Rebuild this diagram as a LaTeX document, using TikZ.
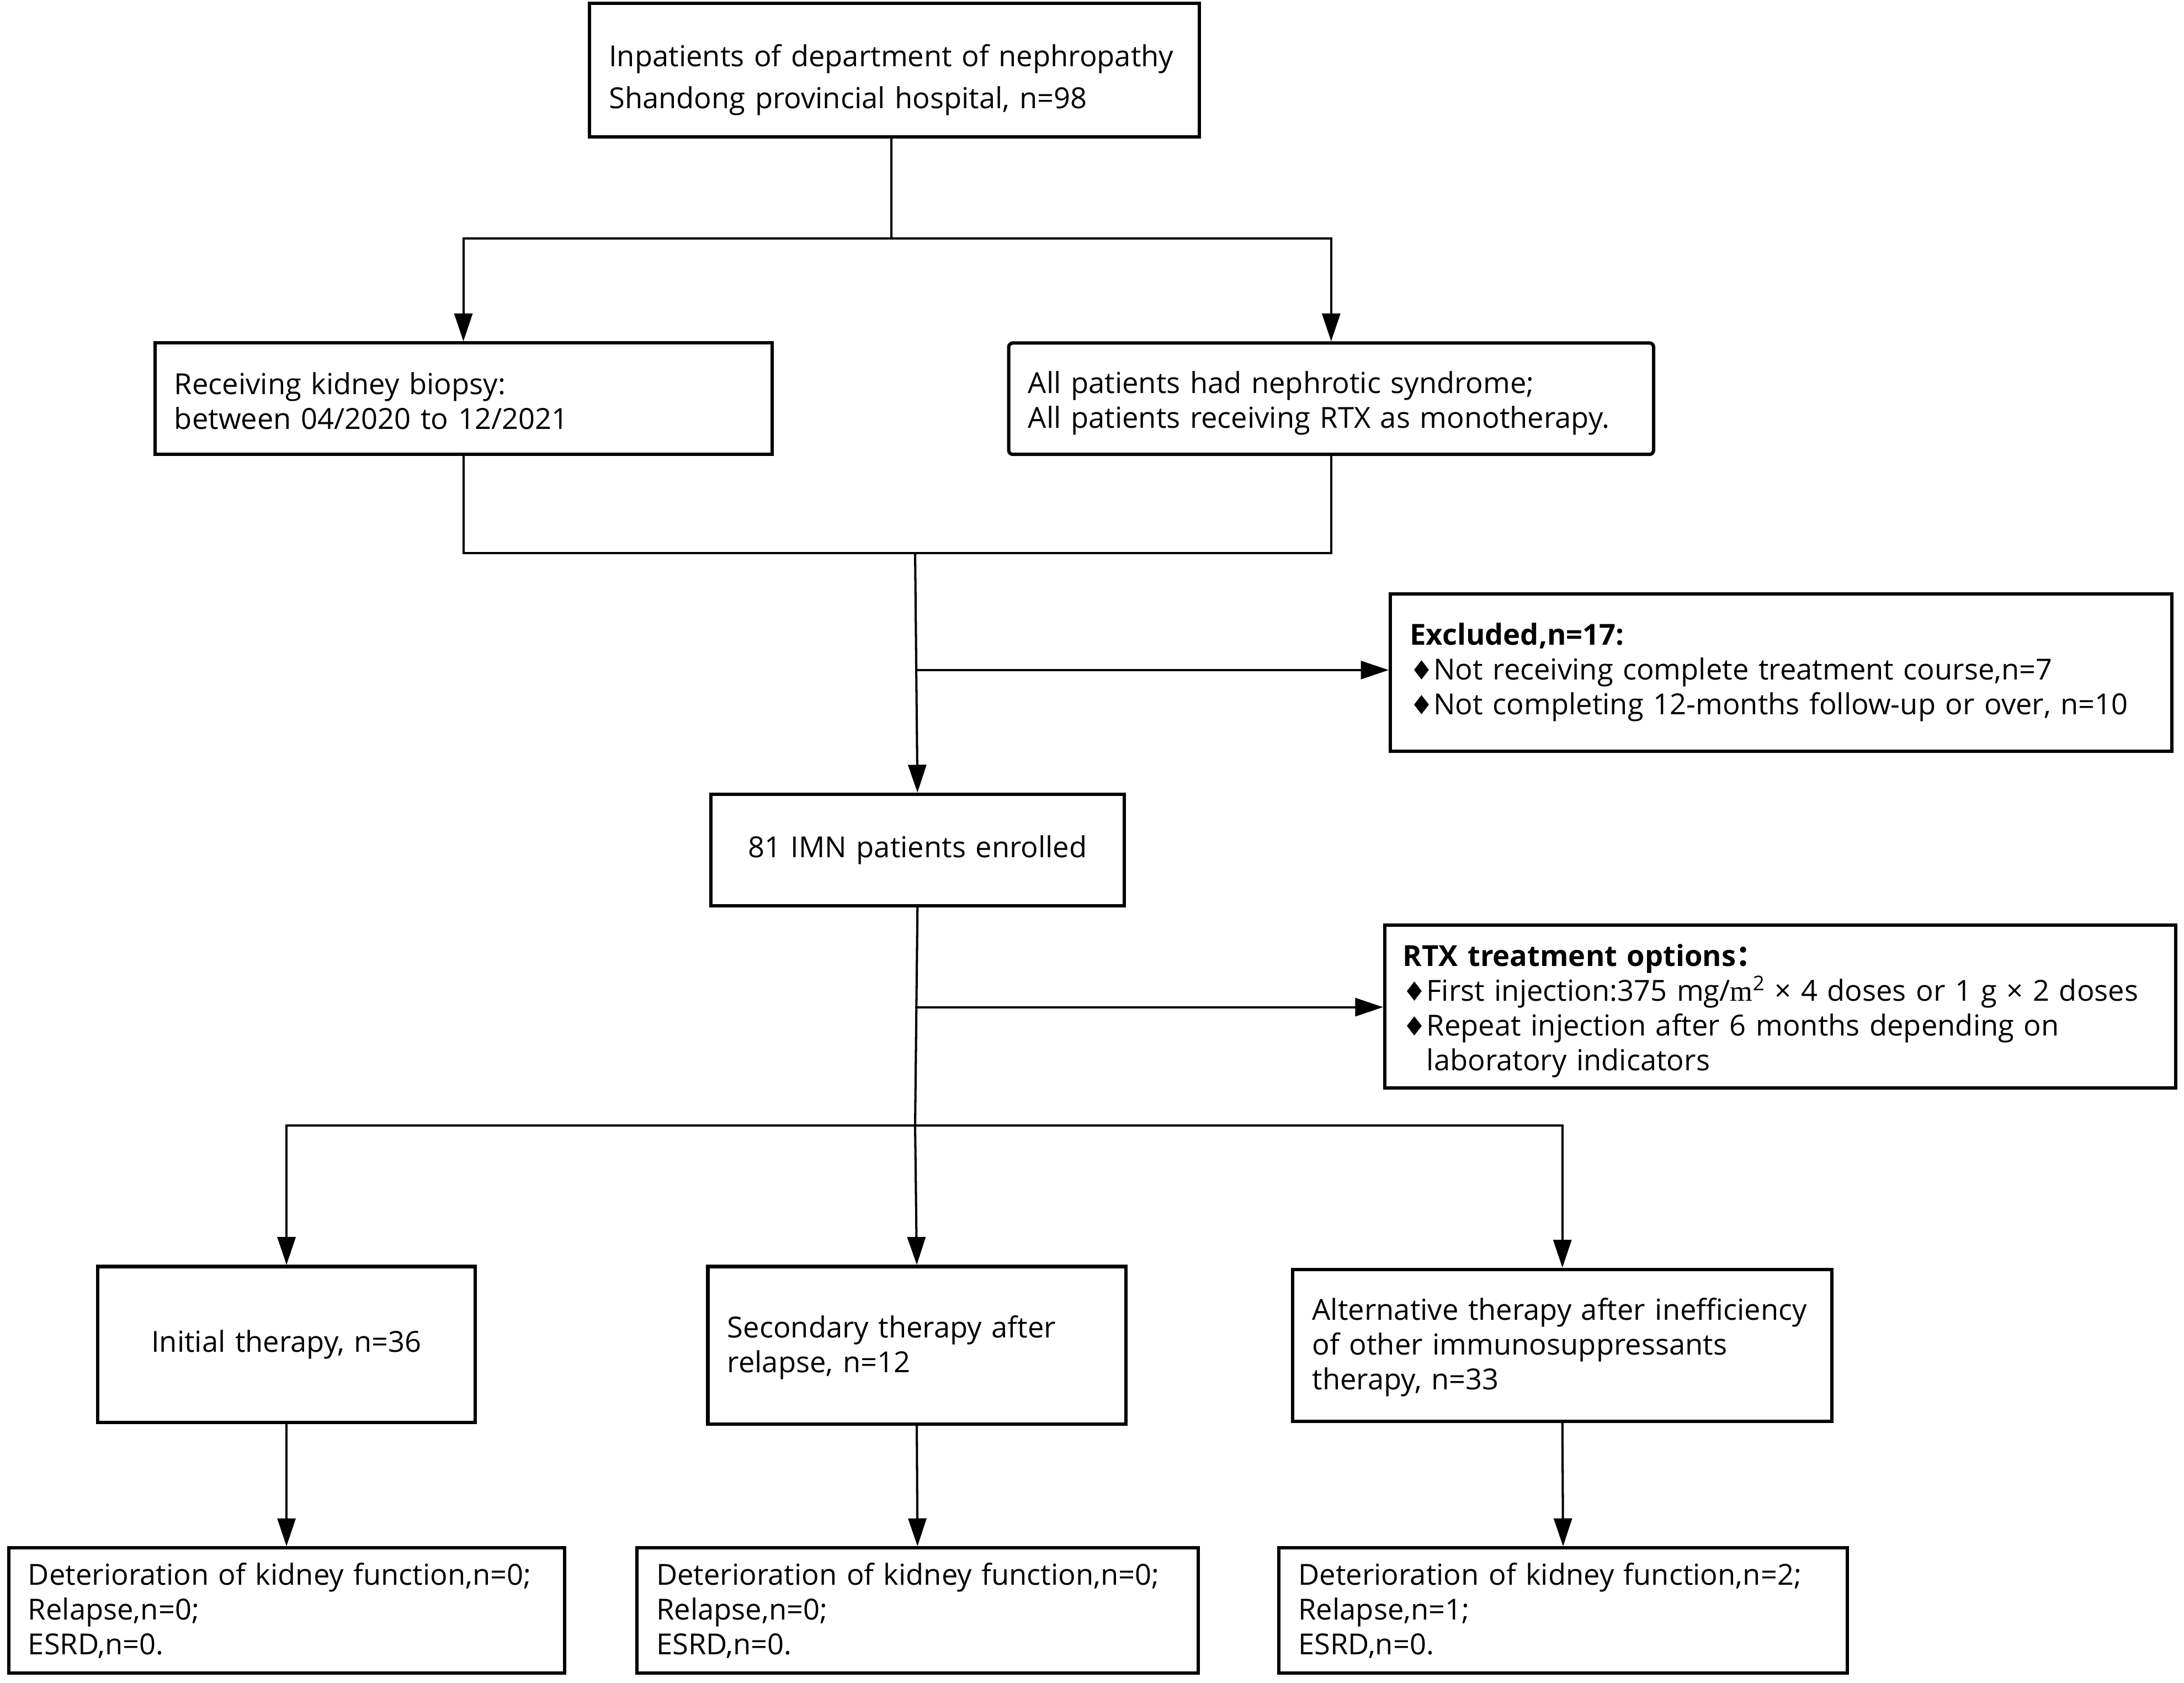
\documentclass[tikz,border=0pt]{standalone}
\usepackage{fontspec}
\setmainfont{Open Sans}
\newfontfamily\djv{DejaVu Sans}
\newfontfamily\cjkf{Noto Sans CJK SC}
\newfontfamily\serifm{Liberation Serif}
\usetikzlibrary{arrows.meta,calc}
\newcommand{\dia}{{\djv\fontsize{19}{25}\selectfont\char"2666}}
\newcommand{\oneline}[1]{\mbox{#1}}
\newcommand{\lift}[1]{\rule{0pt}{#1}}
\begin{document}
\begin{tikzpicture}[x=1pt,y=-1pt,
  box/.style={draw,line width=2.4pt,rectangle,inner xsep=14pt,inner ysep=0pt,align=left,
     font=\fontsize{20.8}{25}\selectfont,anchor=north west},
  conn/.style={line width=1.6pt},
  arr/.style={conn,-{Triangle[length=20pt,width=13pt]}}]
\useasboundingbox (0,0) rectangle (1568,1208);
\fill[white] (0,0) rectangle (1568,1208);
% boxes
\node[box,text width=410pt,minimum height=96pt,font=\fontsize{20.8}{30}\selectfont] (top) at (422,1)
  {\oneline{\lift{30pt}Inpatients of department of nephropathy}\\\oneline{Shandong provincial hospital, n=98}};
\node[box,text width=415pt,minimum height=80pt] (bio) at (110,245)
  {\oneline{\lift{19pt}Receiving kidney biopsy:}\\\oneline{between 04/2020 to 12/2021}};
\node[box,text width=435pt,minimum height=80pt,rounded corners=3pt] (ns) at (723,245)
  {\oneline{\lift{22pt}All patients had nephrotic syndrome;}\\\oneline{All patients receiving RTX as monotherapy.}};
\node[box,text width=533pt,minimum height=113pt] (ex) at (997,425)
  {\oneline{\textbf{Excluded,n=17:}}\\\oneline{\dia Not receiving complete treatment course,n=7}\\\oneline{\dia Not completing 12-months follow-up or over, n=10}};
\node[box,text width=269pt,minimum height=80pt,align=center] (enr) at (509,569)
  {81 IMN patients enrolled};
\node[box,text width=542pt,minimum height=117pt,inner xsep=13pt] (rtx) at (993,663)
  {\oneline{\lift{22pt}\textbf{RTX treatment options}{\cjkf\bfseries ：}}\\\oneline{\dia First injection:375 mg/{\serifm m}\textsuperscript{2} × 4 doses or 1 g × 2 doses}\\\oneline{\dia Repeat injection after 6 months depending on}\\\oneline{\hphantom{\dia}laboratory indicators}};
\node[box,text width=243pt,minimum height=112pt,align=center] (c1) at (69,908)
  {Initial therapy, n=36};
\node[box,text width=272pt,minimum height=113pt] (c2) at (507,908)
  {\oneline{\lift{19pt}Secondary therapy after}\\\oneline{relapse, n=12}};
\node[box,text width=359pt,minimum height=109pt] (c3) at (927,910)
  {\oneline{\lift{19pt}Alternative therapy after inefficiency}\\\oneline{of other immunosuppressants}\\\oneline{therapy, n=33}};
\node[box,text width=371pt,minimum height=90pt] (d1) at (5,1110)
  {\oneline{Deterioration of kidney function,n=0;}\\\oneline{Relapse,n=0;}\\\oneline{ESRD,n=0.}};
\node[box,text width=375pt,minimum height=90pt] (d2) at (456,1110)
  {\oneline{Deterioration of kidney function,n=0;}\\\oneline{Relapse,n=0;}\\\oneline{ESRD,n=0.}};
\node[box,text width=380pt,minimum height=90pt] (d3) at (917,1110)
  {\oneline{Deterioration of kidney function,n=2;}\\\oneline{Relapse,n=1;}\\\oneline{ESRD,n=0.}};
% junctions
\coordinate (j1) at (640,171);
\coordinate (j2) at (657,397);
\coordinate (j3) at (657,481);
\coordinate (j4) at (657,723);
\coordinate (j5) at (657,808);
% connectors
\draw[conn] (top.south -| j1) -- (j1);
\draw[arr] (j1) -| (bio.north);
\draw[arr] (j1) -| (ns.north);
\draw[conn] (bio.south) |- (j2) -| (ns.south);
\draw[arr] (j2) -- (enr.north);
\draw[arr] (j3) -- (j3 -| ex.west);
\draw[conn] (enr.south) -- (j5);
\draw[arr] (j4) -- (j4 -| rtx.west);
\draw[arr] (j5) -| (c1.north);
\draw[arr] (j5) -- (c2.north);
\draw[arr] (j5) -| (c3.north);
\draw[arr] (c1.south) -- (d1.north);
\draw[arr] (c2.south) -- (d2.north);
\draw[arr] (c3.south) -- (d3.north);
\end{tikzpicture}
\end{document}
